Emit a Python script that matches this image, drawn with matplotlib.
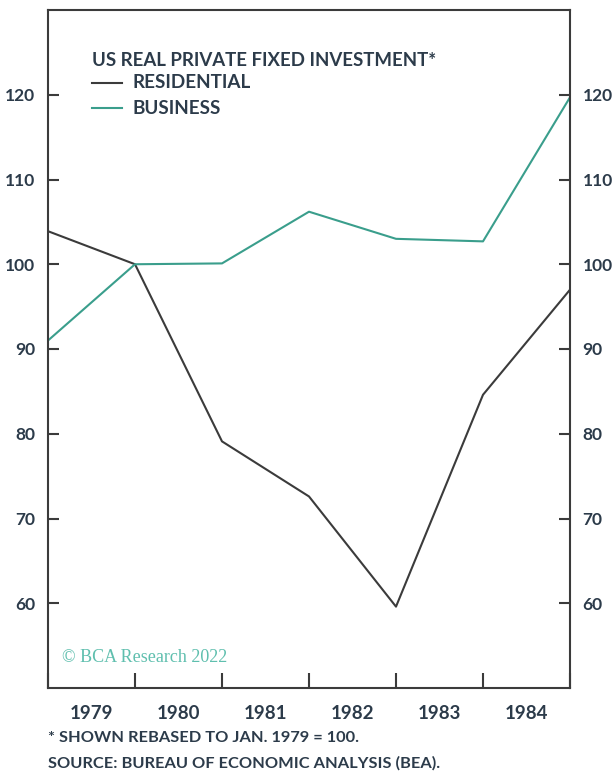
import matplotlib
matplotlib.use("Agg")
import matplotlib.pyplot as plt
import numpy as np

years = ["1979", "1980", "1981", "1982", "1983", "1984"]
points = [0, 1, 2, 3, 4, 5, 6]
residential = [103.9, 100.0, 79.1, 72.6, 59.6, 84.6, 97.0]
business = [91.0, 100.0, 100.1, 106.2, 103.0, 102.7, 119.7]
yticks = [60, 70, 80, 90, 100, 110, 120]

res_color = "#3b3b3b"
bus_color = "#3a9e8c"
txt_color = "#2c3b4a"

plt.rcParams['font.family'] = ['Lato', 'DejaVu Sans']

W, H = 614, 774
fig = plt.figure(figsize=(W / 100, H / 100), dpi=100)
ax = fig.add_axes([48 / W, 1 - 688 / H, (570 - 48) / W, (688 - 10) / H])

ax.plot(points, residential, color=res_color, lw=1.5)
ax.plot(points, business, color=bus_color, lw=1.5)

ax.set_xlim(0, 6)
ax.set_ylim(50, 130)

ax.set_yticks(yticks)
ax.set_yticklabels([str(v) for v in yticks])
ax.tick_params(axis='y', direction='in', length=8, width=1.5, color=res_color,
               labelsize=12.5, labelcolor=txt_color, left=True, right=True,
               labelleft=True, labelright=True, pad=9)
for lbl in ax.get_yticklabels():
    lbl.set_fontweight('bold')

ax.set_xticks(points)
ax.set_xticklabels([])
ax.set_xticks([p + 0.5 for p in points[:-1]], minor=True)
ax.set_xticklabels(years, minor=True, fontsize=13.5, fontweight='bold', color=txt_color)
ax.tick_params(axis='x', which='major', direction='in', length=11, width=1.5, color=res_color)
ax.tick_params(axis='x', which='minor', length=0, pad=12)

for s in ax.spines.values():
    s.set_color(res_color)
    s.set_linewidth(1.5)

# legend / title
fig.text(92 / W, 1 - 60 / H, "US REAL PRIVATE FIXED INVESTMENT*", fontsize=13.4,
         fontweight='bold', color=txt_color, va='center', ha='left')
for y, lab, col in [(83, "RESIDENTIAL", res_color), (108, "BUSINESS", bus_color)]:
    fig.add_artist(plt.Line2D([92 / W, 122 / W], [1 - y / H, 1 - y / H],
                              color=col, lw=1.5, transform=fig.transFigure))
    fig.text(132 / W, 1 - y / H, lab, fontsize=13.6, fontweight='bold',
             color=txt_color, va='center', ha='left')

fig.text(62 / W, 1 - 658 / H, "© BCA Research 2022", fontsize=13,
         family=['Liberation Serif', 'DejaVu Serif'], color="#5fbfae",
         va='center', ha='left')

fig.text(48 / W, 1 - 738 / H, "* SHOWN REBASED TO JAN. 1979 = 100.", fontsize=11.8,
         fontweight='bold', color=txt_color, va='center', ha='left')
fig.text(48 / W, 1 - 763 / H, "SOURCE: BUREAU OF ECONOMIC ANALYSIS (BEA).", fontsize=11.8,
         fontweight='bold', color=txt_color, va='center', ha='left')

fig.savefig("out.png", dpi=100)
